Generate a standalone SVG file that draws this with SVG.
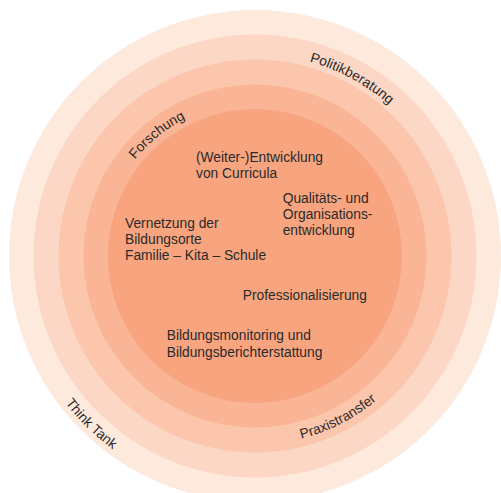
<svg xmlns="http://www.w3.org/2000/svg" width="501" height="493" viewBox="0 0 501 493">
<style>
text{font-family:"Liberation Sans",Arial,sans-serif;font-size:13.8px;fill:#2a2a2a}
</style>
<defs>
<path id="pPolitik" d="M215.07,57.98 A202,202 0 0 1 443.08,182.29"/>
<path id="pForschung" d="M103.83,226.62 A154,154 0 0 1 257.69,102.02"/>
<path id="pThink" d="M16.18,279.83 A240,240 0 0 0 237.0,495.33"/>
<path id="pPraxis" d="M213.24,439.81 A188.5,188.5 0 0 0 428.78,329.05"/>
</defs>
<rect width="501" height="493" fill="#ffffff"/>
<g id="rings">
<circle id="ring5" cx="255" cy="256" r="246" fill="#fee9dd"/>
<circle id="ring4" cx="255" cy="256" r="221.5" fill="#fdd7c5"/>
<circle id="ring3" cx="255" cy="256" r="196.5" fill="#fcc6ad"/>
<circle id="ring2" cx="255" cy="256" r="171.5" fill="#fab596"/>
<circle id="ring1" cx="255" cy="256" r="147" fill="#f8a57f"/>
</g>
<g id="ring-labels">
<text><textPath href="#pPolitik" startOffset="50%" text-anchor="middle">Politikberatung</textPath></text>
<text><textPath href="#pForschung" startOffset="50%" text-anchor="middle">Forschung</textPath></text>
<text><textPath href="#pThink" startOffset="50%" text-anchor="middle">Think Tank</textPath></text>
<text><textPath href="#pPraxis" startOffset="50%" text-anchor="middle">Praxistransfer</textPath></text>
</g>
<g id="topics">
<g id="curricula"><text x="196" y="161.7">(Weiter-)Entwicklung</text><text x="196" y="177.8">von Curricula</text></g>
<g id="qualitaet"><text x="282.7" y="202.7">Qualitäts- und</text><text x="282.7" y="219.2">Organisations-</text><text x="282.7" y="235.3">entwicklung</text></g>
<g id="vernetzung"><text x="125" y="227.5">Vernetzung der</text><text x="125" y="243.6">Bildungsorte</text><text x="125" y="260">Familie – Kita – Schule</text></g>
<g id="professionalisierung"><text x="242.7" y="300">Professionalisierung</text></g>
<g id="monitoring"><text x="166.7" y="340.3">Bildungsmonitoring und</text><text x="166.7" y="357.3">Bildungsberichterstattung</text></g>
</g>
</svg>
